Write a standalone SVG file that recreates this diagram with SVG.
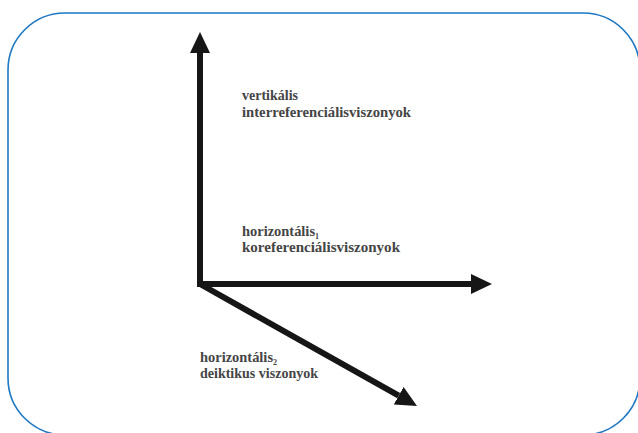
<svg xmlns="http://www.w3.org/2000/svg" width="638" height="433" viewBox="0 0 638 433">
  <style>
    .frame { fill: #ffffff; stroke: #1f78c1; stroke-width: 1.6; }
    .axis { fill: none; stroke: #161616; stroke-width: 6; stroke-linejoin: miter; stroke-linecap: butt; }
    .lbl { font-family: "Liberation Serif", "DejaVu Serif", serif; font-size: 14px; font-weight: bold; fill: #454545; }
    .sub { font-size: 8px; }
  </style>
  <defs>
    <marker id="head" markerUnits="userSpaceOnUse" markerWidth="22" markerHeight="20" refX="0" refY="10" orient="auto-start-reverse" viewBox="0 0 22 20">
      <path d="M0,0 L21,10 L0,20 Z" fill="#161616"/>
    </marker>
  </defs>
  <rect class="frame" x="8" y="13" width="632" height="422" rx="57" ry="57"/>
  <g id="connectors">
    <path class="axis" d="M200,53 L200,284 L471,284" marker-start="url(#head)" marker-end="url(#head)"/>
    <path class="axis" d="M200,284 L398.7,395.7" marker-end="url(#head)"/>
  </g>
  <g id="vertical-label">
    <text class="lbl" x="242" y="100" textLength="56" lengthAdjust="spacingAndGlyphs">vertikális</text>
    <text class="lbl" x="242" y="116.5" textLength="169" lengthAdjust="spacingAndGlyphs">interreferenciálisviszonyok</text>
  </g>
  <g id="horizontal1-label">
    <text class="lbl" x="242" y="235.5"><tspan textLength="73" lengthAdjust="spacingAndGlyphs">horizontális</tspan><tspan class="sub" dy="3">1</tspan></text>
    <text class="lbl" x="242" y="252" textLength="158" lengthAdjust="spacingAndGlyphs">koreferenciálisviszonyok</text>
  </g>
  <g id="horizontal2-label">
    <text class="lbl" x="200" y="362"><tspan textLength="73" lengthAdjust="spacingAndGlyphs">horizontális</tspan><tspan class="sub" dy="3">2</tspan></text>
    <text class="lbl" x="200" y="378" textLength="118" lengthAdjust="spacingAndGlyphs">deiktikus viszonyok</text>
  </g>
</svg>
